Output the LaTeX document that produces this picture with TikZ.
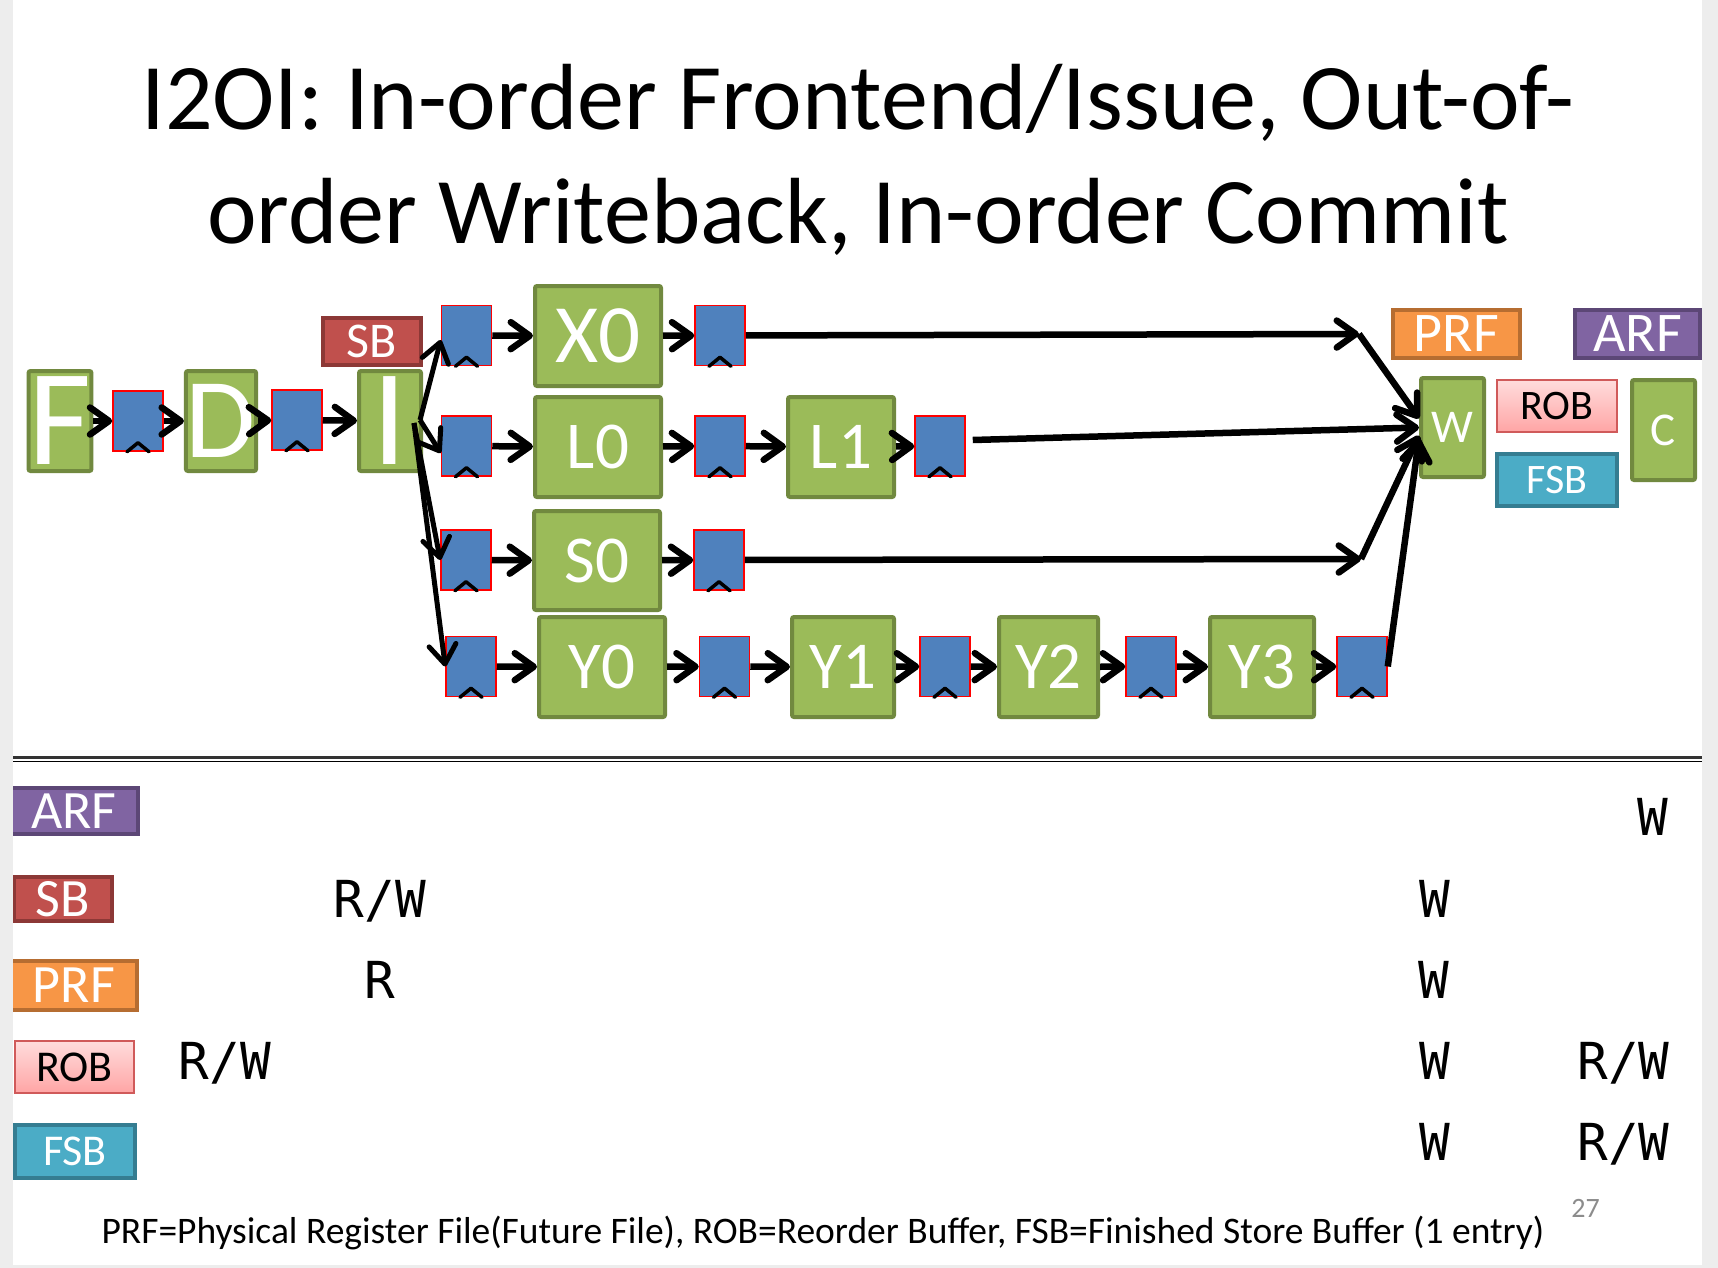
\documentclass[tikz,border=0pt]{standalone}
\usepackage{fontspec}
\setmainfont{Carlito}
\newfontfamily\tablefont{DejaVu Sans Mono}
\usetikzlibrary{arrows.meta, positioning}

\definecolor{stagegreen}{HTML}{9BBB59}
\definecolor{stageedge}{HTML}{71893F}
\definecolor{latchblue}{HTML}{4F81BD}
\definecolor{sbred}{HTML}{C0504D}
\definecolor{sbedge}{HTML}{8C3836}
\definecolor{prforange}{HTML}{F79646}
\definecolor{prfedge}{HTML}{B66D31}
\definecolor{arfpurple}{HTML}{8064A2}
\definecolor{arfedge}{HTML}{5C4776}
\definecolor{fsbcyan}{HTML}{4BACC6}
\definecolor{fsbedge}{HTML}{357D91}
\definecolor{robtop}{HTML}{FFDCDC}
\definecolor{robbot}{HTML}{FFA5A5}
\definecolor{robedge}{HTML}{D05A5A}
\definecolor{margin}{HTML}{EDEDED}
\newcommand{\setfs}[1]{\fontsize{#1}{#1}\selectfont}

\begin{document}
\begin{tikzpicture}[
		x=1pt, y=-1pt,
		% Define styles
		stage/.style={rectangle, draw=stageedge, fill=stagegreen, line width=4pt, rounded corners=2pt, inner sep=0pt, text=white, minimum height=100pt, font=\setfs{67}},
		latch/.style={rectangle, draw=red, fill=latchblue, line width=1.5pt, inner sep=0pt, minimum width=50pt, minimum height=60pt},
		tag/.style={rectangle, line width=4pt, inner sep=0pt, text=white},
		robtag/.style={rectangle, draw=robedge, top color=robtop, bottom color=robbot, line width=1.5pt, inner sep=0pt, text=black},
		arrow/.style={line width=6.5pt, -{Straight Barb[round, length=19pt, width=27pt]}},
		clk/.style={line width=3.5pt, line cap=round, line join=round},
		cell/.style={anchor=base, inner sep=0pt, font=\tablefont\setfs{51}}
		]
		
		\useasboundingbox (0,0) rectangle (1718,1268);
		\fill[margin] (0,0) rectangle (1718,1268);
		\fill[white] (13,0) rectangle (1702,1265);
		
		% Title
		\node (title1) [anchor=base, inner sep=0pt, font=\setfs{94}] at (858,130) {I2OI: In-order Frontend/Issue, Out-of-};
		\node (title2) [anchor=base, inner sep=0pt, font=\setfs{94}] at (858,243) {order Writeback, In-order Commit};
		
		% Frontend and issue
		\node (f) [stage, minimum width=62pt, font=\setfs{137}] at (60,421) {F};
		\node (fl) [latch] at (138,421) {};
		\node (d) [stage, minimum width=62pt, font=\setfs{114}] at (221,421) {D};
		\node (dl) [latch] at (297,420) {};
		\node (i) [stage, minimum width=62pt, font=\setfs{137}] at (390,421) {I};
		\node (sb) [tag, draw=sbedge, fill=sbred, minimum width=98pt, minimum height=47pt, font=\setfs{50}] at (372,341.5) {SB};
		
		% X pipe
		\node (xin) [latch] at (466.5,335.5) {};
		\node (x0) [stage, minimum width=126pt, font=\setfs{83}] at (598,336) {X0};
		\node (xout) [latch] at (720,335.5) {};
		
		% L pipe
		\node (lin) [latch] at (466.5,446) {};
		\node (l0) [stage, minimum width=126pt] at (598,447) {L0};
		\node (lmid) [latch] at (720,446) {};
		\node (l1) [stage, minimum width=106pt] at (841,447) {L1};
		\node (lout) [latch] at (940,446) {};
		
		% S pipe
		\node (sin) [latch] at (466,560) {};
		\node (s0) [stage, minimum width=126pt, minimum height=99pt] at (597,560.5) {S0};
		\node (sout) [latch] at (719,560) {};
		
		% Y pipe
		\node (yin) [latch] at (471,666.5) {};
		\node (y0) [stage, minimum width=126pt] at (602,667) {Y0};
		\node (yl1) [latch] at (724.5,666.5) {};
		\node (y1) [stage, minimum width=102pt] at (843,667) {Y1};
		\node (yl2) [latch] at (945,666.5) {};
		\node (y2) [stage, minimum width=99pt] at (1048.5,667) {Y2};
		\node (yl3) [latch] at (1151,666.5) {};
		\node (y3) [stage, minimum width=104pt] at (1262,667) {Y3};
		\node (yl4) [latch] at (1362,666.5) {};
		
		% Writeback and commit
		\node (w) [stage, minimum width=63pt, minimum height=99pt, font=\setfs{47}] at (1452.5,427.5) {W};
		\node (c) [stage, minimum width=63pt, font=\setfs{47}] at (1663.5,430) {C};
		\node (prf) [tag, draw=prfedge, fill=prforange, minimum width=127pt, minimum height=48pt, font=\setfs{56}] at (1456.5,334) {PRF};
		\node (arf) [tag, draw=arfedge, fill=arfpurple, minimum width=125pt, minimum height=48pt, font=\setfs{56}] at (1637.5,334) {ARF};
		\node (rob) [robtag, minimum width=120pt, minimum height=52pt, font=\setfs{42}] at (1557,406) {ROB};
		\node (fsb) [tag, draw=fsbedge, fill=fsbcyan, minimum width=120pt, minimum height=52pt, font=\setfs{42}] at (1557,480) {FSB};
		
		% Clock marks on the latches
		\foreach \l in {fl,dl,xin,xout,lin,lmid,lout,sin,sout,yin,yl1,yl2,yl3,yl4}
			\draw[clk] ([xshift=-11pt]\l.south) -- ([yshift=9pt]\l.south) -- ([xshift=11pt]\l.south);
		
		% Bend points
		\coordinate (iup) at (420,420);
		\coordinate (idown) at (414,423);
		\coordinate (xbend) at (1359,334);
		\coordinate (sbend) at (1361,559);
		
		% Draw arrows
		\draw [arrow] (f) -- (fl);
		\draw [arrow] (fl) -- (d);
		\draw [arrow] (d) -- (dl);
		\draw [arrow] (dl) -- (i);
		\draw [arrow, line width=5pt] (iup) -- ([yshift=-4.5pt]xin.west);
		\draw [arrow, line width=5pt] (iup) -- ([yshift=-7pt]lin.west);
		\draw [arrow, line width=5pt] (idown) -- (sin.west);
		\draw [arrow, line width=5pt] (idown) -- (yin.west);
		
		\draw [arrow] (xin) -- (x0);
		\draw [arrow] (x0) -- (xout);
		\draw [arrow] (xout) -- (xbend);
		\draw [arrow] (xbend) -- ([yshift=9pt]w.west);
		
		\draw [arrow] (lin) -- (l0);
		\draw [arrow] (l0) -- (lmid);
		\draw [arrow] (lmid) -- (l1);
		\draw [arrow] (l1) -- (lout);
		\draw [arrow] ([xshift=7pt,yshift=6pt]lout.east) -- (w.west);
		
		\draw [arrow] (sin) -- (s0);
		\draw [arrow] (s0) -- (sout);
		\draw [arrow] (sout) -- (sbend);
		\draw [arrow] (sbend) -- ([yshift=-8pt]w.west);
		
		\draw [arrow] (yin) -- (y0);
		\draw [arrow] (y0) -- (yl1);
		\draw [arrow] (yl1) -- (y1);
		\draw [arrow] (y1) -- (yl2);
		\draw [arrow] (yl2) -- (y2);
		\draw [arrow] (y2) -- (yl3);
		\draw [arrow] (yl3) -- (y3);
		\draw [arrow] (y3) -- (yl4);
		\draw [arrow] (yl4.east) -- ([yshift=-11pt]w.west);
		
		% Separator
		\draw[line width=2.5pt, black!80] (13,757.5) -- (1702,757.5);
		\draw[line width=1.5pt] (13,761.5) -- (1702,761.5);
		
		% Key boxes
		\node (karf) [tag, draw=arfedge, fill=arfpurple, minimum width=128pt, minimum height=46pt, font=\setfs{54}] at (74,811) {ARF};
		\node (ksb) [tag, draw=sbedge, fill=sbred, minimum width=98pt, minimum height=44pt, font=\setfs{54}] at (63,899) {SB};
		\node (kprf) [tag, draw=prfedge, fill=prforange, minimum width=126pt, minimum height=49pt, font=\setfs{54}] at (74,985.5) {PRF};
		\node (krob) [robtag, minimum width=119pt, minimum height=52pt, font=\setfs{44}] at (74.5,1067) {ROB};
		\node (kfsb) [tag, draw=fsbedge, fill=fsbcyan, minimum width=120pt, minimum height=53pt, font=\setfs{44}] at (75,1151.5) {FSB};
		
		% Access table
		\node (arfw) [cell] at (1653,835) {W};
		\node (sbrw) [cell] at (380,917) {R/W};
		\node (sbw) [cell] at (1435,917) {W};
		\node (prfr) [cell] at (380,998) {R};
		\node (prfw) [cell] at (1434,998) {W};
		\node (robrw) [cell] at (225,1079) {R/W};
		\node (robw) [cell] at (1434.5,1079) {W};
		\node (robc) [cell] at (1623.5,1079) {R/W};
		\node (fsbw) [cell] at (1434.5,1160) {W};
		\node (fsbc) [cell] at (1623.5,1160) {R/W};
		
		% Footnote and page number
		\node (note) [anchor=base, inner sep=0pt, font=\setfs{37.5}] at (823,1243) {PRF=Physical Register File(Future File), ROB=Reorder Buffer, FSB=Finished Store Buffer (1 entry)};
		\node (page) [anchor=base, inner sep=0pt, text=black!45, font=\setfs{28}] at (1585.5,1217) {27};
		
		% Slide margins on top
		\fill[margin] (0,0) rectangle (13,1268);
		\fill[margin] (1702,0) rectangle (1718,1268);
		\fill[margin] (0,1265) rectangle (1718,1268);
		
	\end{tikzpicture}
\end{document}
